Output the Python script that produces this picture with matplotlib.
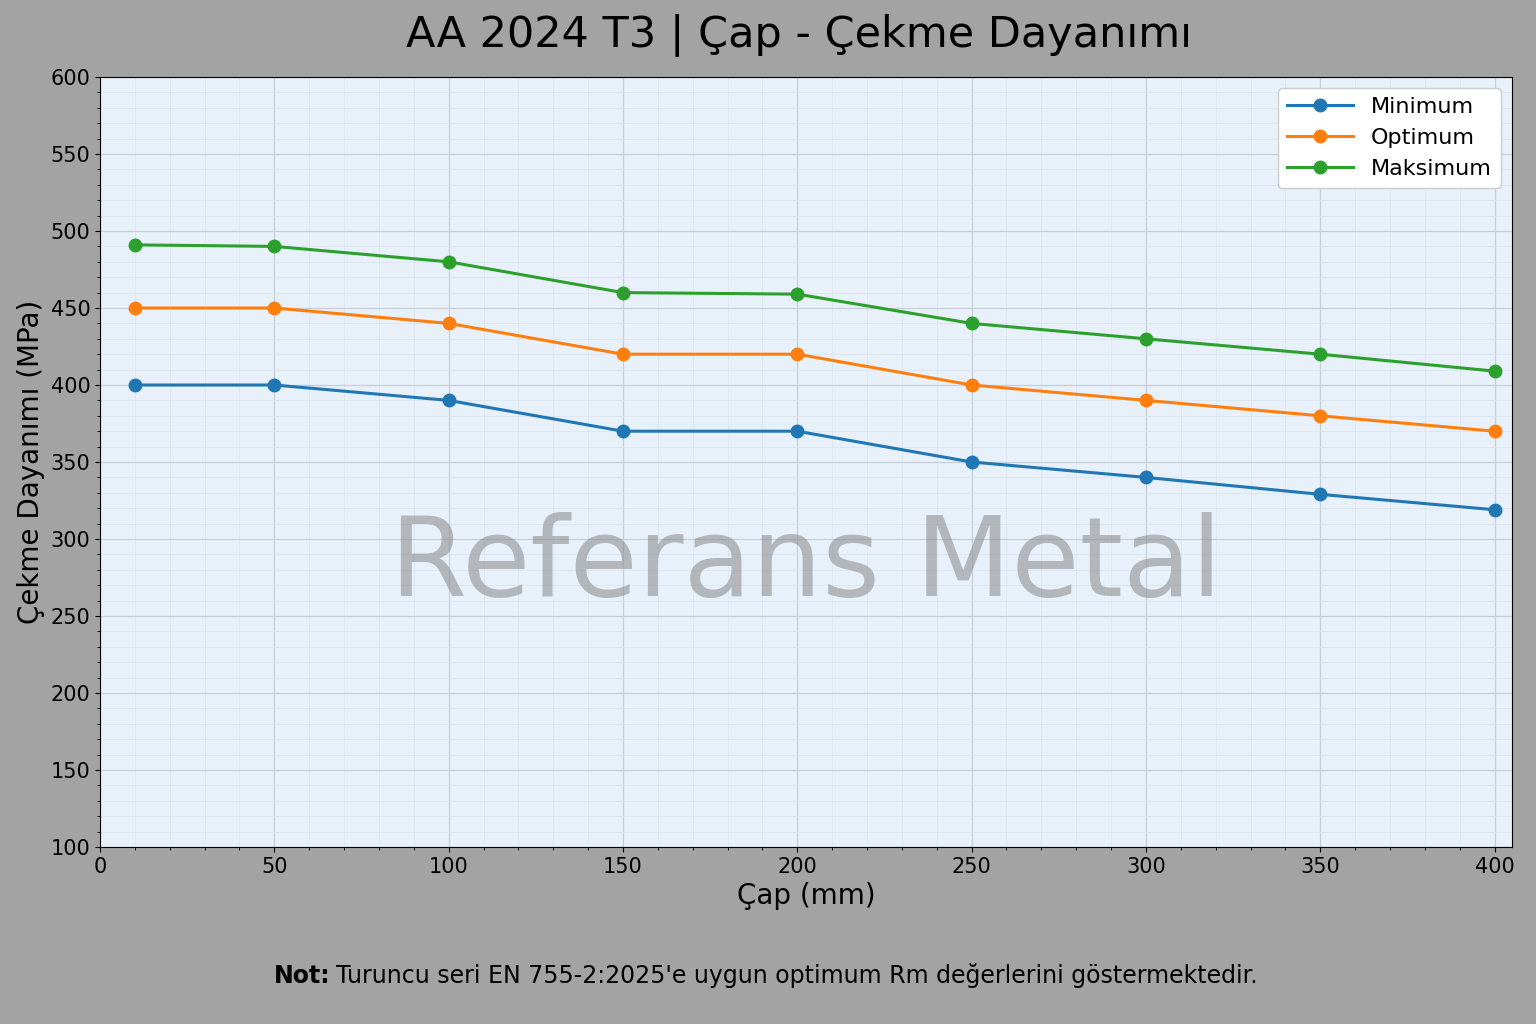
import matplotlib
matplotlib.use("Agg")
import matplotlib.pyplot as plt
from matplotlib.ticker import MultipleLocator

cap = [10, 50, 100, 150, 200, 250, 300, 350, 400]
minimum = [400, 400, 390, 370, 370, 350, 340, 329, 319]
optimum = [450, 450, 440, 420, 420, 400, 390, 380, 370]
maksimum = [491, 490, 480, 460, 459, 440, 430, 420, 409]

fig = plt.figure(figsize=(15.36, 10.24), dpi=100, facecolor="#a3a3a3")
ax = fig.add_axes([100/1536, 1-847/1024, 1412/1536, 770/1024])
ax.set_facecolor("#e8f1fa")
ax.plot(cap, minimum, "-o", color="#1f77b4", lw=2.2, ms=9, label="Minimum")
ax.plot(cap, optimum, "-o", color="#ff7f0e", lw=2.2, ms=9, label="Optimum")
ax.plot(cap, maksimum, "-o", color="#2ca02c", lw=2.2, ms=9, label="Maksimum")
ax.set_xlim(0, 405)
ax.set_ylim(100, 600)
ax.xaxis.set_major_locator(MultipleLocator(50))
ax.yaxis.set_major_locator(MultipleLocator(50))
ax.xaxis.set_minor_locator(MultipleLocator(10))
ax.yaxis.set_minor_locator(MultipleLocator(10))
ax.grid(which="major", color="#c5cfd8", lw=0.9)
ax.grid(which="minor", color="#d8e4ee", lw=0.5)
ax.set_axisbelow(True)
ax.tick_params(labelsize=15)
ax.set_xlabel("Çap (mm)", fontsize=20)
ax.set_ylabel("Çekme Dayanımı (MPa)", fontsize=20)
ax.legend(loc="upper right", fontsize=16, framealpha=1, handlelength=3)
ax.text(0.5, 0.365, "Referans Metal", transform=ax.transAxes, ha="center", va="center",
        fontsize=80, color="#888888", alpha=0.55, zorder=1)
fig.text(0.52, 0.965, "AA 2024 T3 | Çap - Çekme Dayanımı", ha="center", va="center", fontsize=31)
fig.text(0.178, 0.047, "Not:", ha="left", va="center", fontsize=17, fontweight="bold")
fig.text(0.219, 0.047, "Turuncu seri EN 755-2:2025'e uygun optimum Rm değerlerini göstermektedir.",
         ha="left", va="center", fontsize=17)
fig.savefig("out.png", dpi=100, facecolor=fig.get_facecolor())
